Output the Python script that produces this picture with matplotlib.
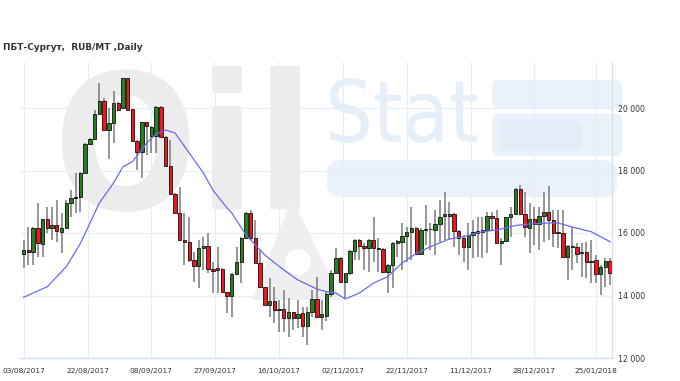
import matplotlib
matplotlib.use("Agg")
import matplotlib.pyplot as plt
from matplotlib.patches import FancyBboxPatch, PathPatch, Polygon, Circle
from matplotlib.textpath import TextPath
from matplotlib.font_manager import FontProperties
from matplotlib.transforms import Affine2D, IdentityTransform
from matplotlib.ticker import FuncFormatter

############
# Daily candles
opens = [15328, 15456, 15403, 16149, 15648, 16437, 16149, 16256, 16043, 16149,
         16949, 17109, 17141, 17931, 18848, 18997, 19797, 20235, 19296, 19531,
         20149, 19989, 20949, 19957, 18955, 18603, 19541, 19104, 19104, 20043,
         19061, 18144, 17248, 16651, 15776, 15723, 15136, 14944, 15509, 15584,
         14837, 14869, 14837, 14123, 13984, 14677, 15083, 15829, 16651, 15829,
         15051, 14283, 13696, 13835, 13568, 13568, 13291, 13483, 13291, 13429,
         13035, 13483, 13877, 13301, 13330, 14037, 14731, 15189, 14443, 14709,
         15435, 15776, 15584, 15509, 15776, 15509, 15477, 14763, 14976, 15691,
         15723, 15904, 16043, 16149, 15328, 16096, 16117, 16096, 16288, 16555,
         16555, 16597, 16075, 15829, 15541, 15936, 16011, 16043, 16096, 16544,
         16469, 15691, 15755, 16501, 16608, 17397, 16608, 16149, 16437, 16288,
         16544, 16683, 16416, 16032, 16011, 15221, 15584, 15541, 15349, 15403,
         15083, 15136, 14688, 14923, 15115]
highs = [15776, 16203, 16203, 16949, 16437, 16843, 16843, 17056, 16629, 17056,
         17376, 17909, 17963, 18869, 19029, 19936, 20789, 20309, 19989, 20544,
         20203, 20949, 20949, 19957, 18976, 19563, 19563, 19424, 20064, 20064,
         19104, 18976, 17269, 17483, 16629, 16523, 15403, 15776, 15883, 15989,
         15083, 15541, 14869, 14123, 14709, 15563, 15861, 16683, 16736, 16416,
         15456, 14283, 14549, 14283, 13856, 14176, 13909, 13483, 13856, 13643,
         13643, 14176, 14603, 13856, 14100, 14816, 15509, 15221, 14731, 15456,
         15797, 15797, 15669, 15797, 16523, 15829, 15509, 14997, 15723, 15776,
         16309, 16203, 16843, 16203, 16149, 16896, 16309, 16736, 17056, 17323,
         17003, 16629, 16096, 15936, 16309, 16416, 16523, 16523, 16683, 16683,
         16736, 15829, 16523, 16843, 17429, 17536, 17323, 16949, 16843, 16843,
         17323, 17504, 16736, 16736, 16736, 15616, 16203, 15669, 15669, 15723,
         15776, 15296, 14976, 15189, 15189]
lows = [14869, 14976, 14976, 15243, 15243, 15989, 15776, 15723, 15349, 16149,
        16523, 16629, 16683, 17909, 18848, 18976, 19776, 19275, 18357, 18869,
        19904, 19989, 19915, 18933, 18016, 17749, 18496, 18549, 18549, 19029,
        18123, 17216, 16629, 15755, 14976, 15083, 14443, 14229, 14816, 14709,
        14069, 14069, 14101, 13429, 13323, 14656, 14389, 15829, 15776, 15029,
        14283, 13696, 13323, 13109, 12843, 12843, 12683, 12896, 12949, 12683,
        12416, 13301, 13280, 12896, 13200, 13950, 14709, 14443, 13909, 14656,
        15136, 15136, 14816, 14763, 15083, 14763, 14709, 14069, 14229, 15243,
        14816, 15083, 15136, 15296, 15296, 15616, 15456, 15296, 15723, 15776,
        15776, 15563, 15296, 15083, 14816, 15189, 15243, 15189, 15349, 16075,
        15669, 14976, 15723, 15883, 16587, 16587, 15883, 15349, 15616, 15456,
        15723, 15776, 15563, 15509, 15200, 14496, 14816, 15029, 14603, 14549,
        14389, 14389, 14016, 14283, 14336]
closes = [15456, 15381, 16149, 15669, 16437, 16149, 16256, 16075, 16149, 16949,
          17109, 17141, 17931, 18848, 18997, 19797, 20235, 19296, 19531, 20149,
          19936, 20949, 19936, 18955, 18603, 19541, 19424, 19403, 20043, 19061,
          18144, 17248, 16651, 15776, 15723, 15136, 14944, 15509, 15584, 14837,
          14795, 14816, 14123, 13984, 14677, 15083, 15829, 16651, 15829, 15051,
          14283, 13696, 13835, 13536, 13536, 13291, 13483, 13291, 13408, 13035,
          13483, 13877, 13301, 13397, 14037, 14731, 15189, 14443, 14709, 15435,
          15776, 15584, 15509, 15776, 15509, 15477, 14763, 14976, 15691, 15744,
          15904, 16043, 16149, 15328, 16096, 16117, 16117, 16288, 16523, 16597,
          16597, 16075, 15829, 15541, 15936, 16021, 16053, 16096, 16544, 16469,
          15691, 15755, 16501, 16608, 17397, 16608, 16181, 16437, 16288, 16544,
          16683, 16416, 16011, 16000, 15221, 15584, 15541, 15328, 15392, 15083,
          15115, 14688, 14923, 15115, 14731]

# moving average line (blue), sampled at candle indices
ma_idx = [0, 5, 9, 12, 16, 19, 21, 23, 26, 28, 30, 32, 35, 38, 40, 43, 44, 47,
          51, 55, 58, 62, 64, 66, 68, 71, 74, 77, 80, 83, 86, 90, 93, 97, 100,
          104, 107, 111, 113, 116, 120, 122, 124]
ma_val = [13942, 14282, 14922, 15670, 16960, 17600, 18122, 18282, 18880, 19168,
          19296, 19200, 18560, 17920, 17376, 16800, 16640, 15936, 15296, 14816,
          14496, 14208, 14122, 14080, 13888, 14080, 14400, 14602, 15040, 15344,
          15562, 15808, 15882, 16042, 16096, 16240, 16288, 16320, 16320, 16192,
          16042, 15882, 15722]

tick_idx = [0, 13.5, 27, 40.5, 54, 67.5, 81, 94.5, 108, 121]
tick_labels = ["03/08/2017", "22/08/2017", "08/09/2017", "27/09/2017",
               "16/10/2017", "02/11/2017", "22/11/2017", "11/12/2017",
               "28/12/2017", "25/01/2018"]
y_ticks = [12000, 14000, 16000, 18000, 20000]
title = "ПБТ-Сургут,  RUB/MT ,Daily"
############

W, H = 680, 381
fig = plt.figure(figsize=(W / 100, H / 100), dpi=100)
ax = fig.add_axes([20 / W, 1 - 358 / H, 592 / W, 296 / H])
pix = IdentityTransform()  # pixel coords, origin bottom-left


def box_text(s, x0, y0, x1, y1, color, weight="normal"):
    # text outline stretched into a box given in picture pixels (top-left origin)
    tp = TextPath((0, 0), s, size=100,
                  prop=FontProperties(family="DejaVu Sans", weight=weight))
    ext = tp.get_extents()
    tr = (Affine2D().translate(-ext.x0, -ext.y0)
          .scale((x1 - x0) / ext.width, (y1 - y0) / ext.height)
          .translate(x0, H - y1))
    ax.add_artist(PathPatch(tr.transform_path(tp), facecolor=color,
                            edgecolor="none", transform=pix, zorder=0.1,
                            clip_on=False))


def box(x0, y0, x1, y1, color, r=8):
    ax.add_artist(FancyBboxPatch((x0, H - y1), x1 - x0, y1 - y0,
                                 boxstyle=f"round,pad=0,rounding_size={r}",
                                 facecolor=color, edgecolor="none",
                                 transform=pix, zorder=0.1, clip_on=False))


# faint OilStat watermark
box_text("Oil", 62, 66, 300, 212, "#ececec", "bold")
ax.add_artist(Polygon([(292, H - 198), (252, H - 300), (342, H - 300)],
                      closed=True, facecolor="#efefef", edgecolor="none",
                      transform=pix, zorder=0.1, clip_on=False))
ax.add_artist(Circle((298, H - 262), 13, facecolor="white", edgecolor="none",
                     transform=pix, zorder=0.1, clip_on=False))
box_text("Stat", 330, 78, 477, 143, "#e6eef8")
box(492, 80, 622, 108, "#eaf1f9", 6)
box(492, 114, 622, 156, "#eaf1f9", 6)
box(500, 121, 582, 150, "#e3ecf7", 10)
box(327, 160, 617, 197, "#eaf1f9", 14)

idx = list(range(len(opens)))
up_col, dn_col = "#2b7d22", "#ee1620"

ax.vlines(idx, lows, highs, color="#7a7a7a", linewidth=1.1, zorder=2)
bottoms = [min(o, c) for o, c in zip(opens, closes)]
heights = [abs(c - o) for o, c in zip(opens, closes)]
colors = [up_col if c >= o else dn_col for o, c in zip(opens, closes)]
ax.bar(idx, heights, bottom=bottoms, width=0.72, color=colors,
       edgecolor="#111111", linewidth=0.6, zorder=3)

ax.plot(ma_idx, ma_val, color="#6b6bf0", linewidth=0.9, zorder=4)

ax.set_xlim(-0.78, 124.4)
ax.set_ylim(12000, 21472)
ax.set_xticks(tick_idx)
ax.set_xticklabels(tick_labels)
ax.set_yticks(y_ticks)
ax.yaxis.set_major_formatter(FuncFormatter(lambda v, p: f"{v:,.0f}".replace(",", " ")))
ax.yaxis.tick_right()
ax.tick_params(axis="both", length=0, colors="#333333")
ax.tick_params(axis="x", pad=7, labelsize=5.4)
ax.tick_params(axis="y", pad=4, labelsize=5.6)
ax.grid(True, color="#e6eef7", linewidth=0.9)
ax.set_axisbelow(True)
for side in ["top", "left"]:
    ax.spines[side].set_visible(False)
for side in ["bottom", "right"]:
    ax.spines[side].set_color("#d3e1ef")
    ax.spines[side].set_linewidth(1.0)

fig.text(3 / W, 1 - 47 / H, title, fontsize=6.4, fontweight="bold",
         color="#333333", va="center", ha="left")

fig.savefig("out.png", dpi=100)
